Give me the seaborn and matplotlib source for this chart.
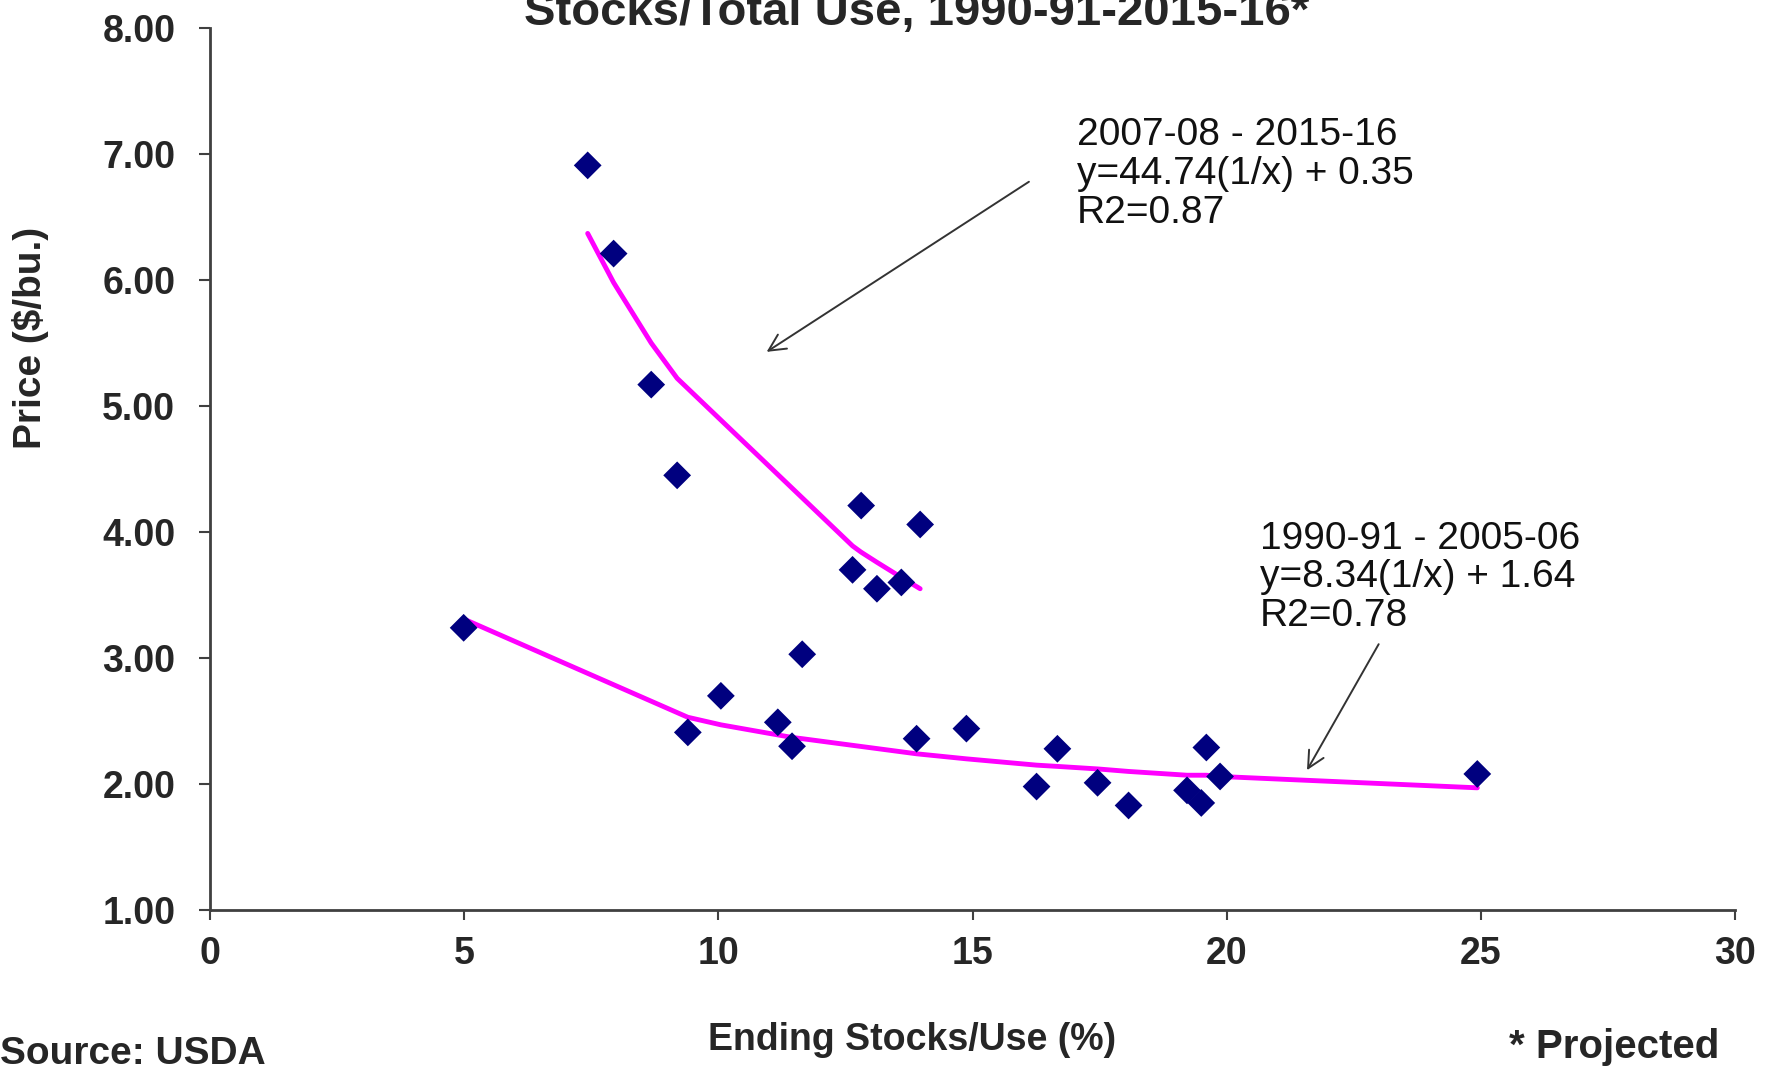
import pandas as pd
import matplotlib
matplotlib.use('Agg')
import matplotlib.pyplot as plt
import seaborn as sns

# 1990-91 .. 2006-07
early_x = [4.99, 9.40, 10.05, 11.17, 11.45, 11.65, 13.90, 14.88, 16.26,
           16.67, 17.46, 18.07, 19.22, 19.50, 19.60, 19.87, 24.93]
early_y = [3.24, 2.41, 2.70, 2.49, 2.30, 3.03, 2.36, 2.44, 1.98,
           2.28, 2.01, 1.83, 1.95, 1.85, 2.29, 2.06, 2.08]
early_fit = [3.31, 2.53, 2.47, 2.39, 2.37, 2.36, 2.24, 2.20, 2.15,
             2.14, 2.12, 2.10, 2.07, 2.07, 2.07, 2.06, 1.97]

# 2007-08 .. 2015-16
late_x = [7.43, 7.94, 8.68, 9.19, 12.64, 12.81, 13.12, 13.60, 13.97]
late_y = [6.91, 6.21, 5.17, 4.45, 3.70, 4.21, 3.55, 3.60, 4.06]
late_fit = [6.37, 5.98, 5.50, 5.22, 3.89, 3.84, 3.76, 3.64, 3.55]

x_ticks = [0, 5, 10, 15, 20, 25, 30]
y_ticks = [1, 2, 3, 4, 5, 6, 7, 8]

late_note = '2007-08 - 2015-16\ny=44.74(1/x) + 0.35\nR2=0.87'
early_note = '1990-91 - 2005-06\ny=8.34(1/x) + 1.64\nR2=0.78'

sns.set_style('ticks')
plt.rcParams['font.family'] = ['Liberation Sans', 'DejaVu Sans']

pts = pd.DataFrame({'x': early_x + late_x, 'y': early_y + late_y})
fits = pd.DataFrame({
    'x': early_x + late_x,
    'fit': early_fit + late_fit,
    'period': ['early'] * len(early_x) + ['late'] * len(late_x),
})

fig = plt.figure(figsize=(17.69, 10.66), dpi=100)
ax = fig.add_axes([0.1187, 0.1463, 0.8621, 0.8274])

sns.lineplot(data=fits, x='x', y='fit', units='period', estimator=None,
             color='#FF00FF', lw=3.5, ax=ax, zorder=2)
sns.scatterplot(data=pts, x='x', y='y', marker='D', s=200, color='#00007F',
                edgecolor='none', ax=ax, zorder=3)

ax.set_xlim(0, 30)
ax.set_ylim(1, 8)
ax.set_xticks(x_ticks)
ax.set_yticks(y_ticks)
ax.set_yticklabels([f'{v:.2f}' for v in y_ticks])
ax.set_xlabel('')
ax.set_ylabel('')
for side in ['top', 'right']:
    ax.spines[side].set_visible(False)
for side in ['left', 'bottom']:
    ax.spines[side].set_color('#404040')
    ax.spines[side].set_linewidth(2)
ax.tick_params(axis='y', length=8, width=1.5, color='#404040', pad=17,
               labelsize=27)
ax.tick_params(axis='x', length=7, width=1.5, color='#404040', pad=12,
               labelsize=27)
for lab in ax.get_xticklabels() + ax.get_yticklabels():
    lab.set_fontweight('bold')

# notes and arrows
ax.text(17.05, 6.84, late_note, fontsize=28, va='center', ha='left',
        linespacing=1.1, color='#111111')
ax.annotate('', xy=(10.95, 5.43), xytext=(16.11, 6.78),
            arrowprops=dict(arrowstyle='->', color='#333333', lw=1.4,
                            mutation_scale=30, shrinkA=0, shrinkB=0))
ax.text(20.66, 3.64, early_note, fontsize=28, va='center', ha='left',
        linespacing=1.1, color='#111111')
ax.annotate('', xy=(21.58, 2.11), xytext=(22.99, 3.11),
            arrowprops=dict(arrowstyle='->', color='#333333', lw=1.4,
                            mutation_scale=30, shrinkA=0, shrinkB=0))

fig.text(0.518, 0.9765, 'Stocks/Total Use, 1990-91-2015-16*', ha='center',
         va='baseline', fontsize=34, fontweight='bold')
fig.text(0.017, 0.683, 'Price ($/bu.)', rotation=90, ha='center',
         va='center', fontsize=28, fontweight='bold')
fig.text(0.5155, 0.024, 'Ending Stocks/Use (%)', ha='center', va='center',
         fontsize=27, fontweight='bold')
fig.text(0.0, 0.011, 'Source: USDA', ha='left', va='center', fontsize=28,
         fontweight='bold')
fig.text(0.972, 0.018, '* Projected', ha='right', va='center', fontsize=29,
         fontweight='bold')

fig.savefig('out.png', dpi=100, facecolor='white')
